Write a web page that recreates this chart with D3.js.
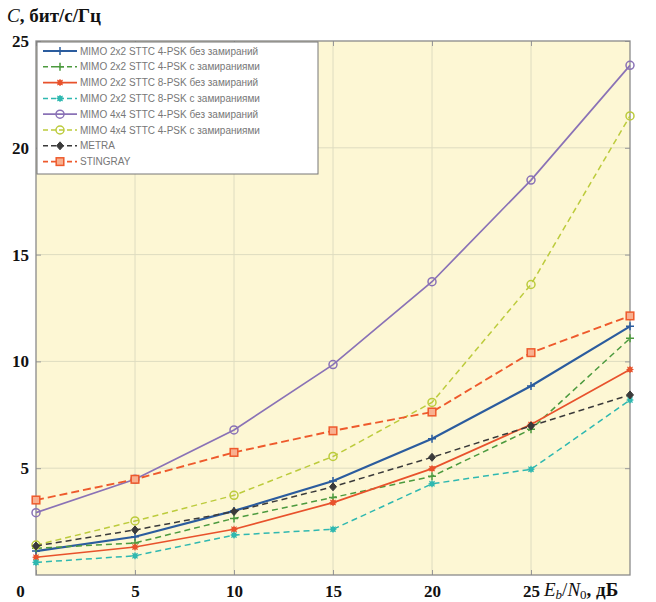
<!DOCTYPE html>
<html><head><meta charset="utf-8">
<script src="https://cdn.jsdelivr.net/npm/d3@7"></script>
<style>
body{margin:0;background:#fff;}
svg{display:block;}
</style></head>
<body><svg id="c" width="656" height="602"></svg>
<script>
const xValues = [0, 5, 10, 15, 20, 25, 30];
const xTicks = [0, 5, 10, 15, 20, 25];
const yTicks = [5, 10, 15, 20, 25];
const seriesNames = [
  "MIMO 2x2 STTC 4-PSK без замираний",
  "MIMO 2x2 STTC 4-PSK с замираниями",
  "MIMO 2x2 STTC 8-PSK без замираний",
  "MIMO 2x2 STTC 8-PSK с замираниями",
  "MIMO 4x4 STTC 4-PSK без замираний",
  "MIMO 4x4 STTC 4-PSK с замираниями",
  "METRA",
  "STINGRAY"
];
const s2x2psk4 = [1.12, 1.79, 3.0, 4.4, 6.38, 8.85, 11.64];
const s2x2psk4f = [1.25, 1.5, 2.65, 3.63, 4.62, 6.82, 11.08];
const s2x2psk8 = [0.83, 1.31, 2.14, 3.39, 4.98, 7.05, 9.62];
const s2x2psk8f = [0.59, 0.9, 1.87, 2.14, 4.27, 4.95, 8.19];
const s4x4psk4 = [2.92, 4.48, 6.79, 9.85, 13.73, 18.49, 23.86];
const s4x4psk4f = [1.4, 2.53, 3.73, 5.55, 8.08, 13.6, 21.49];
const metra = [1.36, 2.11, 2.97, 4.13, 5.51, 6.98, 8.43];
const stingray = [3.51, 4.48, 5.74, 6.75, 7.63, 10.41, 12.13];

const seriesValues = [s2x2psk4, s2x2psk4f, s2x2psk8, s2x2psk8f, s4x4psk4, s4x4psk4f, metra, stingray];
const styles = [
  {color:"#2b5c9e", dash:null, w:2.2, m:"plus"},
  {color:"#4c9a3e", dash:"6,4", w:1.5, m:"plus"},
  {color:"#e8522c", dash:null, w:1.7, m:"star"},
  {color:"#2fb8b0", dash:"6,4", w:1.5, m:"star"},
  {color:"#8a72b6", dash:null, w:1.7, m:"circle"},
  {color:"#bccb3c", dash:"6,4", w:1.5, m:"circle"},
  {color:"#3a3a3a", dash:"6,4", w:1.5, m:"diamond"},
  {color:"#ee5a2c", dash:"8,4", w:1.9, m:"square"}
];

const svg = d3.select("#c");
const L = 36, R = 630, T = 41, B = 575;
const x = d3.scaleLinear().domain([0, 30]).range([L, R]);
const y = d3.scaleLinear().domain([0, 25]).range([B, T]);

svg.append("rect").attr("x", L).attr("y", T).attr("width", R - L).attr("height", B - T).attr("fill", "#fdf7d4");

// grid
const g = svg.append("g");
g.selectAll(".vg").data(xValues.slice(1, -1)).join("line")
  .attr("x1", d => x(d)).attr("x2", d => x(d)).attr("y1", T).attr("y2", B)
  .attr("stroke", "#dedcc0").attr("stroke-width", 1);
g.selectAll(".hg").data(yTicks.slice(0, -1)).join("line")
  .attr("x1", L).attr("x2", R).attr("y1", d => y(d)).attr("y2", d => y(d))
  .attr("stroke", "#dedcc0").attr("stroke-width", 1);

// axes
const xAxis = svg.append("g").attr("transform", `translate(0,${B})`)
  .call(d3.axisBottom(x).tickValues(xTicks).tickSizeInner(-5).tickSizeOuter(0).tickPadding(10).tickFormat(d3.format("d")));
const yAxis = svg.append("g").attr("transform", `translate(${L},0)`)
  .call(d3.axisLeft(y).tickValues(yTicks).tickSizeInner(-5).tickSizeOuter(0).tickPadding(6).tickFormat(d3.format("d")));
svg.append("g").attr("transform", `translate(${R},0)`)
  .call(d3.axisRight(y).tickValues(yTicks).tickSizeInner(-5).tickSizeOuter(0).tickFormat(""));
svg.append("g").attr("transform", `translate(0,${T})`)
  .call(d3.axisTop(x).tickValues(xTicks).tickSizeInner(-5).tickSizeOuter(0).tickFormat(""));
svg.selectAll(".domain").remove();
svg.selectAll(".tick line").attr("stroke", "#999");
[xAxis, yAxis].forEach(a => a.selectAll("text")
  .attr("font-family", "'Liberation Serif','Times New Roman',serif")
  .attr("font-size", 17).attr("font-weight", "bold").attr("fill", "#111"));
xAxis.selectAll(".tick").filter(d => d === 0).select("text").attr("dx", -16);
yAxis.selectAll("text").attr("x", -7);

svg.append("rect").attr("x", L).attr("y", T).attr("width", R - L).attr("height", B - T)
  .attr("fill", "none").attr("stroke", "#8a8a8a").attr("stroke-width", 1.3);

// markers
function drawMarker(sel, type, color, cx, cy) {
  if (type === "plus") {
    sel.append("path").attr("d", `M${cx-4},${cy}H${cx+4}M${cx},${cy-4}V${cy+4}`).attr("stroke", color).attr("stroke-width", 1.5);
  } else if (type === "star") {
    sel.append("circle").attr("cx", cx).attr("cy", cy).attr("r", 2.6).attr("fill", color);
    sel.append("path").attr("d", `M${cx-3.5},${cy}H${cx+3.5}M${cx},${cy-3.5}V${cy+3.5}M${cx-2.6},${cy-2.6}L${cx+2.6},${cy+2.6}M${cx-2.6},${cy+2.6}L${cx+2.6},${cy-2.6}`).attr("stroke", color).attr("stroke-width", 1.1);
  } else if (type === "circle") {
    sel.append("circle").attr("cx", cx).attr("cy", cy).attr("r", 4).attr("fill", "none").attr("stroke", color).attr("stroke-width", 1.5);
  } else if (type === "diamond") {
    sel.append("path").attr("d", `M${cx},${cy-4}L${cx+3.5},${cy}L${cx},${cy+4}L${cx-3.5},${cy}Z`).attr("fill", color).attr("stroke", color);
  } else if (type === "square") {
    sel.append("rect").attr("x", cx-3.8).attr("y", cy-3.8).attr("width", 7.6).attr("height", 7.6).attr("fill", "#f8b090").attr("stroke", color).attr("stroke-width", 1.5);
  }
}

const line = d3.line().x((d, i) => x(xValues[i])).y(d => y(d));
seriesValues.forEach((vals, k) => {
  const st = styles[k];
  const gg = svg.append("g");
  gg.append("path").datum(vals).attr("d", line).attr("fill", "none")
    .attr("stroke", st.color).attr("stroke-width", st.w)
    .attr("stroke-dasharray", st.dash);
  vals.forEach((v, i) => drawMarker(gg, st.m, st.color, x(xValues[i]), y(v)));
});

// legend
const lg = svg.append("g");
lg.append("rect").attr("x", 37).attr("y", 42).attr("width", 281).attr("height", 132)
  .attr("fill", "#fff").attr("stroke", "#777").attr("stroke-width", 1);
seriesNames.forEach((name, k) => {
  const st = styles[k];
  const cy = 51 + k * 15.8;
  lg.append("line").attr("x1", 43).attr("x2", 77).attr("y1", cy).attr("y2", cy)
    .attr("stroke", st.color).attr("stroke-width", st.w).attr("stroke-dasharray", st.dash ? "5,3" : null);
  drawMarker(lg, st.m, st.color, 60, cy);
  lg.append("text").attr("x", 80).attr("y", cy + 3.5).text(name)
    .attr("font-family", "'Liberation Sans',Arial,sans-serif").attr("font-size", 10).attr("fill", "#777");
});

// axis titles
const serif = "'Liberation Serif','Times New Roman',serif";
const yt = svg.append("text").attr("x", 7).attr("y", 22).attr("font-family", serif).attr("font-size", 19).attr("fill", "#111");
yt.append("tspan").attr("font-style", "italic").text("C");
yt.append("tspan").attr("font-weight", "bold").text(", бит/с/Гц");

const xt = svg.append("text").attr("x", 544).attr("y", 596).attr("font-family", serif).attr("font-size", 19).attr("fill", "#111");
xt.append("tspan").attr("font-style", "italic").text("E");
xt.append("tspan").attr("font-style", "italic").attr("font-size", 13).attr("dy", 3).text("b");
xt.append("tspan").attr("dy", -3).text("/");
xt.append("tspan").attr("font-style", "italic").text("N");
xt.append("tspan").attr("font-size", 13).attr("dy", 3).text("0");
xt.append("tspan").attr("dy", -3).attr("font-weight", "bold").text(", дБ");
</script></body></html>
